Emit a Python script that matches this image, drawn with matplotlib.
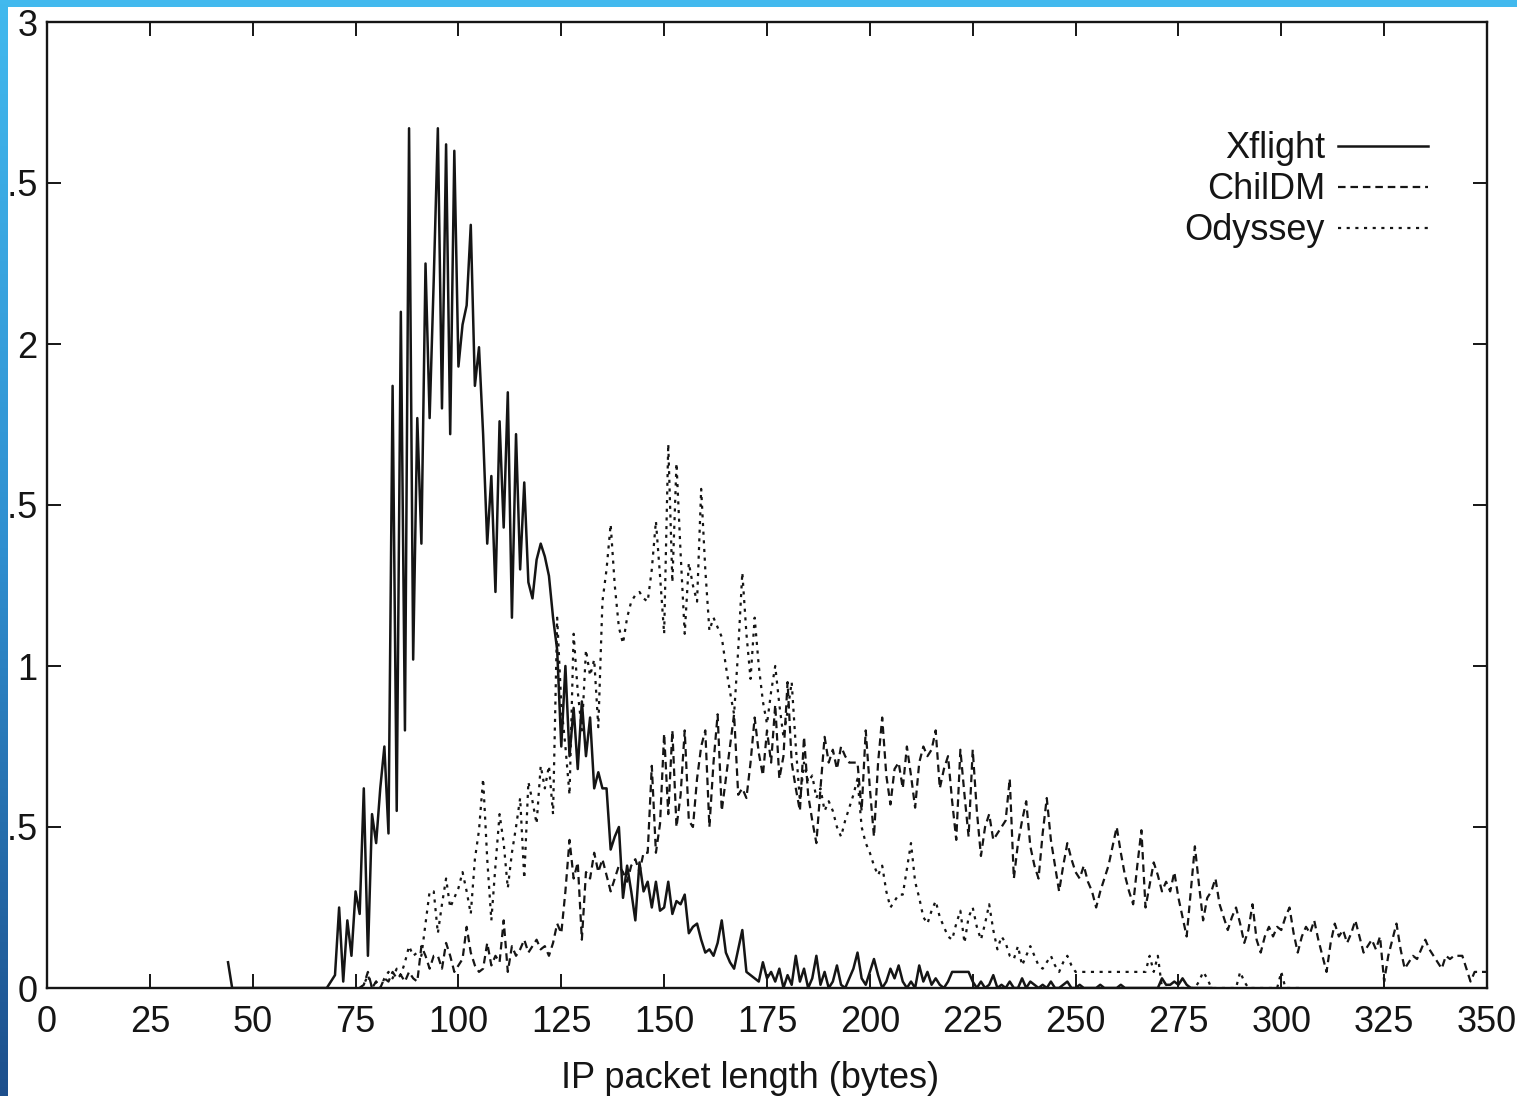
import numpy as np
import matplotlib
matplotlib.use("Agg")
import matplotlib.pyplot as plt
from matplotlib.patches import Rectangle
from matplotlib.colors import LinearSegmentedColormap

plt.rcParams['font.family'] = ['Liberation Sans', 'DejaVu Sans']

# Packet-length distributions, one value per byte (percentage of packets)
xflight_start = 44
xflight = [
    0.08, 0.00, 0.00, 0.00, 0.00, 0.00, 0.00, 0.00, 0.00, 0.00,
    0.00, 0.00, 0.00, 0.00, 0.00, 0.00, 0.00, 0.00, 0.00, 0.00,
    0.00, 0.00, 0.00, 0.00, 0.00, 0.02, 0.04, 0.25, 0.02, 0.21,
    0.10, 0.30, 0.23, 0.62, 0.10, 0.54, 0.45, 0.62, 0.75, 0.48,
    1.87, 0.55, 2.10, 0.80, 2.67, 1.02, 1.77, 1.38, 2.25, 1.77,
    2.20, 2.67, 1.80, 2.62, 1.72, 2.60, 1.93, 2.06, 2.12, 2.37,
    1.87, 1.99, 1.72, 1.38, 1.59, 1.23, 1.76, 1.43, 1.85, 1.15,
    1.72, 1.30, 1.57, 1.26, 1.21, 1.33, 1.38, 1.34, 1.28, 1.15,
    1.05, 0.75, 1.00, 0.72, 0.87, 0.68, 0.89, 0.72, 0.84, 0.62,
    0.67, 0.62, 0.62, 0.43, 0.47, 0.50, 0.28, 0.38, 0.30, 0.21,
    0.39, 0.30, 0.33, 0.25, 0.33, 0.24, 0.25, 0.33, 0.23, 0.27,
    0.26, 0.29, 0.17, 0.19, 0.20, 0.15, 0.11, 0.12, 0.10, 0.14,
    0.21, 0.11, 0.08, 0.06, 0.12, 0.18, 0.05, 0.04, 0.03, 0.02,
    0.08, 0.03, 0.05, 0.02, 0.06, 0.00, 0.04, 0.01, 0.10, 0.02,
    0.06, 0.00, 0.03, 0.10, 0.01, 0.05, 0.00, 0.02, 0.07, 0.01,
    0.00, 0.03, 0.06, 0.11, 0.03, 0.01, 0.05, 0.09, 0.04, 0.00,
    0.02, 0.06, 0.03, 0.07, 0.02, 0.00, 0.02, 0.00, 0.07, 0.02,
    0.05, 0.01, 0.03, 0.01, 0.00, 0.02, 0.05, 0.05, 0.05, 0.05,
    0.05, 0.02, 0.00, 0.02, 0.00, 0.01, 0.04, 0.00, 0.01, 0.00,
    0.02, 0.00, 0.00, 0.03, 0.00, 0.02, 0.01, 0.00, 0.01, 0.00,
    0.02, 0.00, 0.00, 0.01, 0.02, 0.00, 0.00, 0.01, 0.00, 0.00,
    0.00, 0.00, 0.01, 0.00, 0.00, 0.00, 0.00, 0.01, 0.00, 0.00,
    0.00, 0.00, 0.00, 0.00, 0.00, 0.00, 0.00, 0.03, 0.01, 0.01,
    0.02, 0.01, 0.03, 0.01, 0.00, 0.00, 0.00, 0.00, 0.00, 0.00,
]

childm_start = 76
childm = [
    0.00, 0.01, 0.05, 0.00, 0.02, 0.00, 0.03, 0.02, 0.05, 0.03,
    0.04, 0.02, 0.05, 0.03, 0.02, 0.13, 0.10, 0.06, 0.10, 0.10,
    0.06, 0.14, 0.10, 0.05, 0.07, 0.09, 0.19, 0.11, 0.07, 0.05,
    0.06, 0.14, 0.07, 0.10, 0.08, 0.21, 0.05, 0.13, 0.10, 0.12,
    0.15, 0.11, 0.13, 0.15, 0.12, 0.13, 0.10, 0.14, 0.20, 0.17,
    0.30, 0.46, 0.34, 0.39, 0.15, 0.36, 0.34, 0.42, 0.36, 0.40,
    0.35, 0.30, 0.34, 0.38, 0.36, 0.33, 0.38, 0.40, 0.36, 0.42,
    0.42, 0.69, 0.42, 0.51, 0.79, 0.54, 0.80, 0.50, 0.60, 0.80,
    0.52, 0.50, 0.65, 0.75, 0.80, 0.50, 0.70, 0.85, 0.55, 0.65,
    0.75, 0.85, 0.60, 0.62, 0.59, 0.70, 0.84, 0.73, 0.66, 0.80,
    0.70, 0.88, 0.65, 0.72, 0.95, 0.70, 0.62, 0.55, 0.78, 0.60,
    0.52, 0.45, 0.62, 0.78, 0.70, 0.74, 0.68, 0.75, 0.72, 0.70,
    0.70, 0.70, 0.55, 0.80, 0.62, 0.47, 0.70, 0.84, 0.66, 0.57,
    0.68, 0.70, 0.62, 0.75, 0.66, 0.56, 0.70, 0.75, 0.72, 0.74,
    0.80, 0.62, 0.68, 0.72, 0.58, 0.46, 0.74, 0.60, 0.47, 0.74,
    0.55, 0.41, 0.50, 0.54, 0.46, 0.48, 0.50, 0.52, 0.65, 0.34,
    0.45, 0.52, 0.58, 0.44, 0.38, 0.34, 0.48, 0.59, 0.46, 0.38,
    0.30, 0.38, 0.45, 0.40, 0.36, 0.34, 0.38, 0.33, 0.30, 0.25,
    0.30, 0.34, 0.38, 0.44, 0.50, 0.42, 0.35, 0.30, 0.26, 0.38,
    0.49, 0.25, 0.32, 0.39, 0.35, 0.30, 0.33, 0.30, 0.36, 0.28,
    0.22, 0.16, 0.30, 0.44, 0.32, 0.21, 0.28, 0.30, 0.34, 0.26,
    0.22, 0.18, 0.22, 0.25, 0.20, 0.14, 0.18, 0.26, 0.15, 0.11,
    0.16, 0.19, 0.16, 0.19, 0.18, 0.22, 0.25, 0.17, 0.11, 0.16,
    0.19, 0.17, 0.21, 0.15, 0.10, 0.05, 0.14, 0.20, 0.16, 0.18,
    0.14, 0.17, 0.21, 0.16, 0.11, 0.13, 0.15, 0.12, 0.16, 0.02,
    0.10, 0.15, 0.20, 0.12, 0.06, 0.08, 0.10, 0.09, 0.12, 0.15,
    0.12, 0.10, 0.08, 0.06, 0.10, 0.09, 0.10, 0.10, 0.10, 0.06,
    0.02, 0.05, 0.05, 0.05, 0.05,
]

odyssey_start = 76
odyssey = [
    0.00, 0.01, 0.04, 0.00, 0.02, 0.00, 0.03, 0.05, 0.03, 0.06,
    0.04, 0.08, 0.13, 0.10, 0.11, 0.10, 0.20, 0.30, 0.30, 0.17,
    0.26, 0.34, 0.25, 0.28, 0.31, 0.36, 0.30, 0.23, 0.40, 0.49,
    0.65, 0.40, 0.21, 0.38, 0.54, 0.45, 0.31, 0.42, 0.50, 0.59,
    0.34, 0.64, 0.58, 0.51, 0.69, 0.62, 0.69, 0.54, 1.15, 0.88,
    0.75, 0.60, 1.10, 0.92, 0.80, 1.05, 0.97, 1.02, 0.81, 1.20,
    1.30, 1.44, 1.25, 1.12, 1.07, 1.15, 1.20, 1.22, 1.23, 1.21,
    1.20, 1.30, 1.45, 1.28, 1.10, 1.69, 1.26, 1.63, 1.35, 1.10,
    1.32, 1.25, 1.20, 1.55, 1.30, 1.11, 1.15, 1.12, 1.09, 1.00,
    0.92, 0.85, 1.05, 1.29, 1.10, 0.96, 1.15, 1.00, 0.89, 0.82,
    0.92, 1.00, 0.88, 0.78, 0.86, 0.95, 0.75, 0.58, 0.70, 0.64,
    0.66, 0.59, 0.62, 0.55, 0.58, 0.55, 0.50, 0.47, 0.52, 0.56,
    0.60, 0.65, 0.50, 0.45, 0.42, 0.38, 0.35, 0.38, 0.30, 0.25,
    0.27, 0.29, 0.29, 0.37, 0.45, 0.33, 0.28, 0.22, 0.20, 0.24,
    0.27, 0.22, 0.19, 0.16, 0.15, 0.20, 0.24, 0.14, 0.22, 0.25,
    0.19, 0.15, 0.20, 0.26, 0.18, 0.12, 0.16, 0.14, 0.10, 0.09,
    0.13, 0.07, 0.10, 0.13, 0.10, 0.07, 0.06, 0.08, 0.10, 0.07,
    0.05, 0.08, 0.10, 0.07, 0.05, 0.05, 0.05, 0.05, 0.05, 0.05,
    0.05, 0.05, 0.05, 0.05, 0.05, 0.05, 0.05, 0.05, 0.05, 0.05,
    0.05, 0.05, 0.10, 0.05, 0.10, 0.00, 0.00, 0.00, 0.00, 0.00,
    0.00, 0.00, 0.00, 0.00, 0.02, 0.05, 0.03, 0.00, 0.00, 0.00,
    0.00, 0.00, 0.00, 0.00, 0.05, 0.02, 0.00, 0.00, 0.00, 0.00,
    0.00, 0.00, 0.00, 0.00, 0.05, 0.00, 0.00, 0.00, 0.00, 0.00,
]

x_ticks = list(range(0, 351, 25))
y_ticks = [0, 0.5, 1, 1.5, 2, 2.5, 3]
y_tick_labels = ['0', '0.5', '1', '1.5', '2', '2.5', '3']

W, H = 1517, 1096
fig = plt.figure(figsize=(W / 100, H / 100), dpi=100)
fig.patch.set_facecolor('white')
ax = fig.add_axes([47 / W, 1 - 988 / H, 1440 / W, 966 / H])

x_xf = np.arange(xflight_start, xflight_start + len(xflight))
x_cd = np.arange(childm_start, childm_start + len(childm))
x_od = np.arange(odyssey_start, odyssey_start + len(odyssey))

ink = '#151515'
ax.plot(x_xf, xflight, color=ink, lw=1.8, label='Xflight')
ax.plot(x_cd, childm, color=ink, lw=1.6, ls=(0, (3.4, 2.2)), label='ChilDM')
ax.plot(x_od, odyssey, color=ink, lw=1.6, ls=(0, (1.4, 2.5)), label='Odyssey')

ax.set_xlim(0, 350)
ax.set_ylim(0, 3)
ax.set_xticks(x_ticks)
ax.set_xticklabels([str(v) for v in x_ticks])
ax.set_yticks(y_ticks)
ax.set_yticklabels(y_tick_labels)
ax.tick_params(direction='in', length=10, width=1.4, top=True, right=True,
               labelsize=26, colors=ink)
ax.tick_params(axis='x', pad=12)
ax.tick_params(axis='y', pad=7)
for s in ax.spines.values():
    s.set_linewidth(1.7)
    s.set_color(ink)

ax.set_xlabel('IP packet length (bytes)', fontsize=26, color=ink)
ax.xaxis.set_label_coords(0.488, -0.076)

leg = ax.legend(loc='upper right', bbox_to_anchor=(0.959, 0.887), frameon=False,
                markerfirst=False, fontsize=26, handlelength=2.5,
                handletextpad=0.35, labelspacing=0.17, borderpad=0,
                borderaxespad=0)
for t in leg.get_texts():
    t.set_color(ink)

# Slide frame: light-blue top band and a blue gradient band on the left
fig.add_artist(Rectangle((0, 1 - 7 / H), 1, 7 / H, transform=fig.transFigure,
                         facecolor='#42b9ee', edgecolor='none', zorder=5))
band = fig.add_axes([0, 0, 8 / W, 1], zorder=6)
cmap = LinearSegmentedColormap.from_list('band', ['#42b9ee', '#2f8fd0', '#1d4f8c'])
band.imshow(np.linspace(0, 1, 256).reshape(-1, 1), cmap=cmap, aspect='auto',
            extent=[0, 1, 0, 1], origin='upper')
band.set_axis_off()

fig.savefig('out.png', dpi=100)
